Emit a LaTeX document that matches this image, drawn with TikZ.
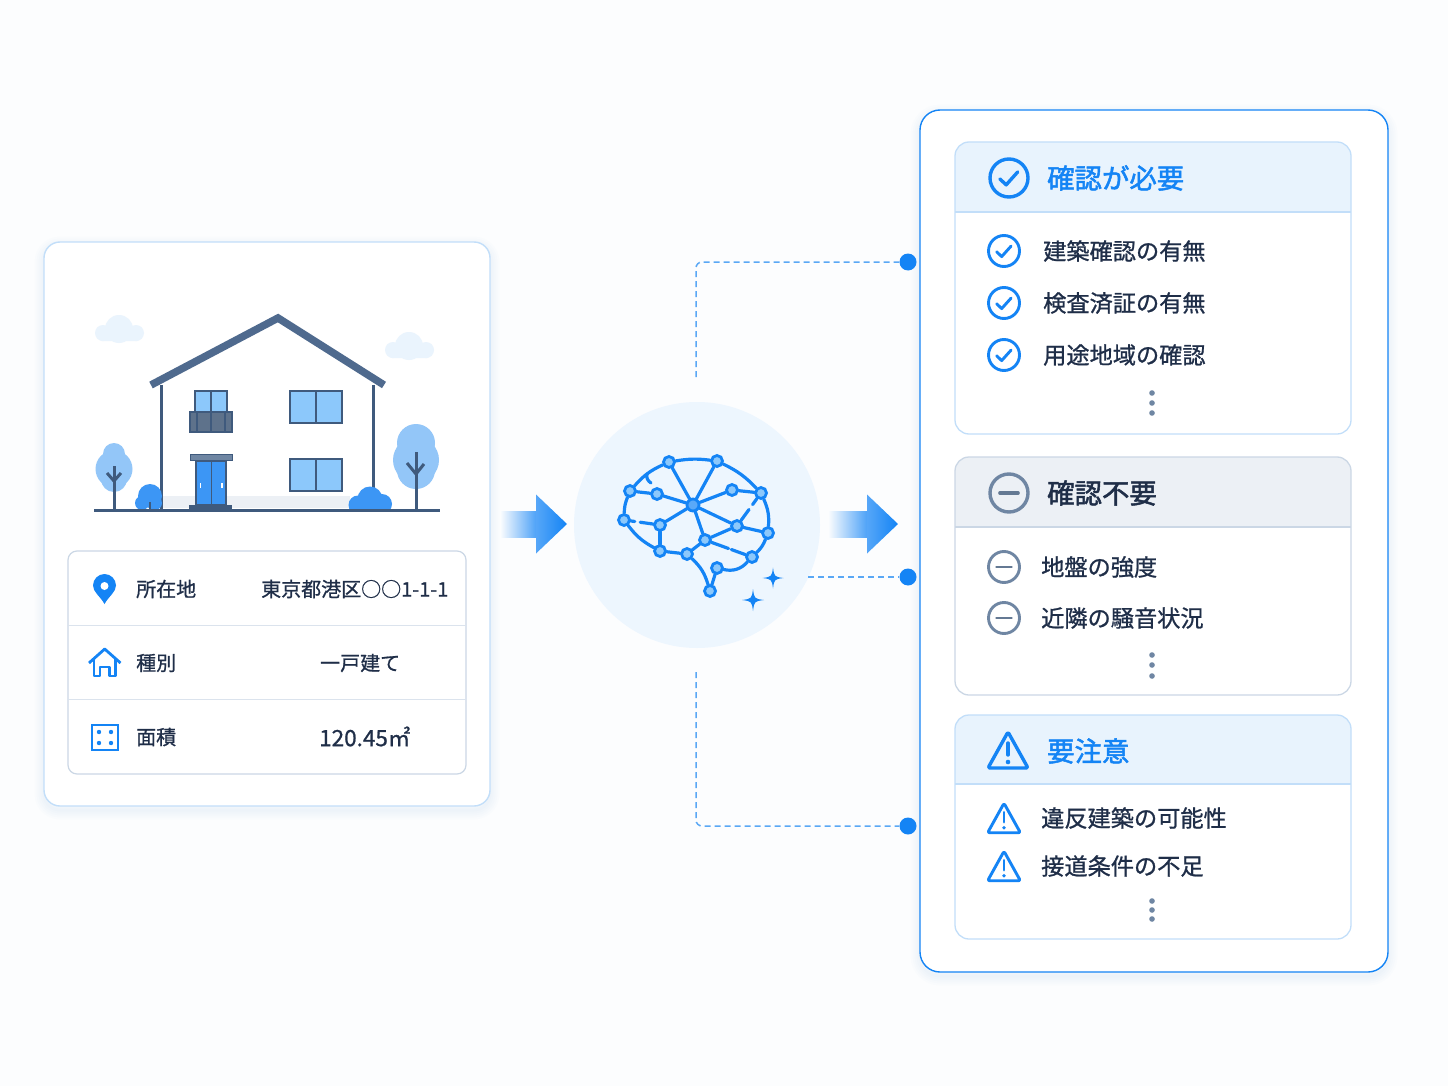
\documentclass[tikz,border=0pt]{standalone}
\usepackage{fontspec}
\setmainfont{Noto Sans CJK JP}
\newfontfamily\itemfont[FakeBold=0.9]{Noto Sans CJK JP}
\newfontfamily\headfont[FakeBold=1.8]{Noto Sans CJK JP}
\usetikzlibrary{positioning,calc,shapes.geometric}

\definecolor{pagebg}{HTML}{FCFDFE}
\definecolor{accent}{HTML}{1484F5}
\definecolor{ink}{HTML}{1F2E48}
\definecolor{slate}{HTML}{6F86A3}
\definecolor{steel}{HTML}{3F5A7D}
\definecolor{roofc}{HTML}{4F6A8E}
\definecolor{edgeb}{HTML}{C2DEF9}
\definecolor{edgeg}{HTML}{CBD7E5}
\definecolor{headb}{HTML}{E8F3FD}
\definecolor{headg}{HTML}{ECF0F5}
\definecolor{hubc}{HTML}{EDF6FE}
\definecolor{glass}{HTML}{8CC8FB}
\definecolor{leaf}{HTML}{93C6F8}
\definecolor{bush}{HTML}{3C96F5}
\definecolor{cloudc}{HTML}{EAF4FD}
\definecolor{dashc}{HTML}{5AA8F5}

\tikzset{
  panel/.style={rectangle,draw=accent,fill=white,line width=1.4pt,rounded corners=20pt,inner sep=0pt,outer sep=0pt},
  card/.style={rectangle,draw=edgeb,fill=white,line width=1.4pt,rounded corners=16pt,inner sep=0pt,outer sep=0pt},
  infobox/.style={rectangle,draw=edgeg,fill=white,line width=1.2pt,rounded corners=9pt,inner sep=0pt,outer sep=0pt},
  txt/.style={anchor=west,inner sep=0pt,text=ink,font=\itemfont\fontsize{20}{24}\selectfont},
  item/.style={anchor=west,inner sep=0pt,text=ink,font=\itemfont\fontsize{23.2}{26}\selectfont},
  headtxt/.style={anchor=west,inner sep=0pt,font=\headfont\fontsize{27.4}{30}\selectfont},
  brainnode/.style={circle,draw=accent,fill=glass,line width=2.8pt,minimum size=11pt,inner sep=0pt},
  brainline/.style={draw=accent,line width=3.2pt,line cap=round},
  dashline/.style={draw=dashc,line width=1.5pt,dash pattern=on 6pt off 4pt,rounded corners=6pt},
  enddot/.style={circle,fill=accent,minimum size=17pt,inner sep=0pt},
  win/.style={draw=steel,fill=glass,line width=2.6pt},
  wall/.style={draw=steel,line width=3pt},
}

% icons, all at centre #1,#2
\newcommand{\chkicon}[5]{\begin{scope}[shift={(#1,#2)},scale=#3]
  \draw[#5,line width=#4] (0,0) circle (1);
  \draw[#5,line width=#4,line cap=round,line join=round] (-.48,.05) -- (-.15,.36) -- (.46,-.32);
\end{scope}}
\newcommand{\minusicon}[4]{\begin{scope}[shift={(#1,#2)},scale=#3]
  \draw[slate,line width=#4] (0,0) circle (1);
  \draw[slate!90!black,line width=#4,line cap=round] (-.48,0) -- (.48,0);
\end{scope}}
\newcommand{\warnicon}[4]{\begin{scope}[shift={(#1,#2)},scale=#3]
  \draw[accent,line width=#4,line join=round,rounded corners=2pt] (0,-18) -- (20,18) -- (-20,18) -- cycle;
  \draw[accent,line width=#4,line cap=round] (0,-7) -- (0,5);
  \fill[accent] (0,12) circle (2.3);
\end{scope}}
\newcommand{\cloudshape}[2]{\begin{scope}[shift={(#1,#2)}]
  \fill[cloudc] (8,13) circle (8);
  \fill[cloudc] (41,13) circle (8);
  \fill[cloudc] (24,9) circle (14);
  \fill[cloudc,rounded corners=4pt] (3,14) rectangle (46,21);
\end{scope}}
\newcommand{\blockarrow}[2]{\begin{scope}[shift={(#1,524)}]
  \shade[left color=pagebg,right color=accent!75] (0,-13) rectangle (#2,13);
  \shade[left color=accent!72,right color=accent] (#2,-29.5) -- ({#2+31},0) -- (#2,29.5) -- cycle;
\end{scope}}
\newcommand{\softshadow}[3]{\foreach \w in {3,7,11,15,19}{
  \draw[accent,opacity=.012,line width=\w pt,rounded corners=#3] (#1) rectangle (#2);}}

\begin{document}
\begin{tikzpicture}[x=1pt,y=-1pt]
  \fill[pagebg] (0,0) rectangle (1448,1086);
  \useasboundingbox (0,0) rectangle (1448,1086);

  % left card
  \softshadow{44,246}{490,810}{16pt}
  \node (cardL) [card,minimum width=446pt,minimum height=564pt,above right] at (44,806) {};
  \node (infoBox) [infobox,minimum width=398pt,minimum height=223pt,above right] at (68,774) {};
  \draw[edgeg!70,line width=1pt] (68,625) -- (466,625);
  \draw[edgeg!70,line width=1pt] (68,699) -- (466,699);

  % clouds
  \cloudshape{95}{320}
  \cloudshape{385}{337}

  % trees
  \fill[leaf] (114,454) circle (11);
  \fill[leaf] (114,469) circle (18.5);
  \fill[leaf] (114,479) circle (13);
  \fill[leaf] (416,443) circle (19);
  \fill[leaf] (416,460) circle (23);
  \fill[leaf] (416,470) circle (19);
  \draw[wall] (114,466) -- (114,510);
  \draw[wall] (107,473) -- (114,481) -- (121,473);
  \draw[wall] (416,452) -- (416,510);
  \draw[wall] (407,463) -- (416,474) -- (424,464);

  % house
  \fill[white] (161,385) -- (278,322) -- (373,385) -- (373,510) -- (161,510) -- cycle;
  \fill[headg] (163,496) rectangle (350,508);
  \draw[wall] (161,385) -- (161,510);
  \draw[wall] (373,385) -- (373,492);
  \draw[roofc,line width=7.5pt] (151,385) -- (278,318) -- (384,385);

  % windows
  \draw[win] (195,391) rectangle (227,412);
  \draw[steel,line width=2.2pt] (211,391) -- (211,412);
  \draw[steel,fill=slate!85!black,line width=2.6pt] (190,412) rectangle (232,432);
  \foreach \rail in {197,211,225} \draw[steel,line width=1.5pt] (\rail,412) -- (\rail,432);
  \draw[win] (290,391) rectangle (342,423);
  \draw[steel,line width=2.4pt] (316,391) -- (316,423);
  \draw[win] (290,459) rectangle (342,491);
  \draw[steel,line width=2.4pt] (316,459) -- (316,491);

  % door
  \fill[slate,draw=steel,line width=1pt] (190,454) rectangle (232,460);
  \draw[steel,fill=bush,line width=2.4pt] (196,461) rectangle (226,505);
  \draw[steel,line width=1pt] (211,461) -- (211,505);
  \fill[white] (199.5,483) rectangle (201,488);
  \fill[white] (221,483) rectangle (222.5,488);
  \fill[steel] (189,505) rectangle (232,510);

  % bushes
  \begin{scope}
    \clip (120,470) rectangle (410,510);
    \fill[bush] (150,496) circle (12);
    \fill[bush] (142,503) circle (7);
    \fill[bush] (155,503) circle (7);
    \fill[bush] (370,499) circle (12.5);
    \fill[bush] (358,505) circle (9.5);
    \fill[bush] (382,504) circle (10);
  \end{scope}
  \draw[steel,line width=1.6pt] (150,502) -- (150,510);

  % ground
  \draw[wall] (94,510) -- (440,510);

  % info rows
  \fill[accent] (104.5,604) .. controls (100,596) and (93,592) .. (93,585.5) arc[start angle=180,end angle=360,radius=11.5] .. controls (116,592) and (109,596) .. (104.5,604) -- cycle;
  \fill[white] (104.5,586) circle (4);
  \draw[accent,line width=2.8pt,line join=round] (89,663) -- (104.7,649) -- (120.5,663);
  \draw[accent,line width=2.8pt,line join=round] (94,659) -- (94,676) -- (100,676) -- (100,667) -- (109.5,667) -- (109.5,676) -- (115.5,676) -- (115.5,659);
  \draw[accent,line width=2.8pt] (92,725) rectangle (118,750);
  \foreach \dx in {99,111} \foreach \dy in {732,743} \fill[accent] (\dx,\dy) circle (2.2);

  \node (lblAddr) [txt] at (136,589) {所在地};
  \node (lblKind) [txt] at (136,663) {種別};
  \node (lblArea) [txt] at (136,737) {面積};
  \node (valAddr) [txt] at (261,589) {東京都港区○○1-1-1};
  \node (valKind) [txt] at (320,663) {一戸建て};
  \node (valArea) [txt,font=\itemfont\fontsize{22.5}{24}\selectfont] at (319,736.5) {120.45㎡};

  % arrows
  \blockarrow{500}{36}
  \blockarrow{828}{39}

  % hub with brain
  \node (hub) [circle,fill=hubc,minimum size=246pt,inner sep=0pt] at (697,525) {};
  \foreach \nm/\x/\y in {n1/669/462,n2/717/461,n3/630/491,n4/657/494,n6/732/490,n7/761/493,n8/624/520,n9/660/525,n10/737/526,n11/768/533,n12/660/551,n13/687/554,n14/705/540,n15/752/557,n16/717/568,n17/710/591}
    \node (\nm) [brainnode] at (\x,\y) {};
  \node (n5) [brainnode,fill=accent!70,minimum size=12pt] at (693,505) {};

  % brain outline
  \draw[brainline] (n3) to[bend left=12] (n1);
  \draw[brainline] (n1) to[bend left=8] (n2);
  \draw[brainline] (n2) to[bend left=10] (n7);
  \draw[brainline] (n7) to[bend left=14] (n11);
  \draw[brainline] (n11) to[bend left=12] (n15);
  \draw[brainline] (n15) to[bend left=30] (n16);
  \draw[brainline] (n16) -- (n17);
  \draw[brainline] (n17) to[bend right=15] (n13);
  \draw[brainline] (n13) -- (n12);
  \draw[brainline] (n12) to[bend left=12] (n8);
  \draw[brainline] (n8) to[bend left=10] (n3);
  % brain inside
  \foreach \a/\b in {n1/n5,n2/n5,n4/n5,n6/n5,n10/n5,n9/n5,n14/n5,n3/n4,n6/n7,n9/n12,n10/n11,n10/n14,n14/n13}
    \draw[brainline] (\a) -- (\b);
  \draw[brainline] (n8) -- ($(n8)!.3!(n9)$);
  \draw[brainline] ($(n8)!.45!(n9)$) -- (n9);
  \draw[brainline] (n7) -- ($(n7)!.35!(n10)$);
  \draw[brainline] ($(n7)!.5!(n10)$) -- (n10);
  \draw[brainline] (n14) -- ($(n14)!.5!(n15)$);
  \draw[brainline] ($(n14)!.56!(n15)$) -- (n15);
  \draw[brainline] (647,474) .. controls (646,478) and (648,481) .. (651,483);

  % sparkles
  \foreach \sx/\sy/\sr in {773/578/10.5,753/600/11}
    \fill[accent] (\sx,{\sy-\sr}) .. controls ({\sx+.12*\sr},{\sy-.12*\sr}) .. ({\sx+\sr},\sy) .. controls ({\sx+.12*\sr},{\sy+.12*\sr}) .. (\sx,{\sy+\sr}) .. controls ({\sx-.12*\sr},{\sy+.12*\sr}) .. ({\sx-\sr},\sy) .. controls ({\sx-.12*\sr},{\sy-.12*\sr}) .. (\sx,{\sy-\sr}) -- cycle;

  % right panel
  \softshadow{920,114}{1388,976}{20pt}
  \node (panelR) [panel,minimum width=468pt,minimum height=862pt,above right] at (920,972) {};

  % sections
  \foreach \tp/\hd/\bt/\fc/\ec in {142/212/434/headb/edgeb,457/527/695/headg/edgeg,715/784/939/headb/edgeb}{
    \fill[\fc,rounded corners=14pt] (955,\tp) rectangle (1351,{\hd+20});
    \fill[white] (955,\hd) rectangle (1351,{\hd+22});
    \draw[\ec,line width=1.3pt,rounded corners=14pt] (955,\tp) rectangle (1351,\bt);
    \draw[\ec,line width=1.3pt] (955,\hd) -- (1351,\hd);
  }

  % headers
  \chkicon{1009}{178}{19}{3.4pt}{accent}
  \node (headA) [headtxt,text=accent] at (1047,178) {確認が必要};
  \minusicon{1009}{493}{19}{3.4pt}
  \node (headB) [headtxt,text=ink] at (1047,493) {確認不要};
  \warnicon{1008}{750}{1}{3.4pt}
  \node (headC) [headtxt,text=accent] at (1047,751) {要注意};

  % items
  \foreach \yy in {251,303,355} {\chkicon{1004}{\yy}{15.5}{2.9pt}{accent}}
  \node (itemA1) [item] at (1043,251) {建築確認の有無};
  \node (itemA2) [item] at (1043,303) {検査済証の有無};
  \node (itemA3) [item] at (1043,355) {用途地域の確認};
  \foreach \yy in {567,618} {\minusicon{1004}{\yy}{15.5}{2.9pt}}
  \node (itemB1) [item] at (1041,567) {地盤の強度};
  \node (itemB2) [item] at (1041,618) {近隣の騒音状況};
  \foreach \yy in {818,866} {\warnicon{1004}{\yy}{.82}{2.9pt}}
  \node (itemC1) [item] at (1041,818) {違反建築の可能性};
  \node (itemC2) [item] at (1041,866) {接道条件の不足};

  % more dots
  \foreach \yy in {393,403,413,655,665,676,901,910,919}
    \fill[slate] (1152,\yy) circle (2.8);

  % dashed links
  \node (dotA) [enddot] at (908,262) {};
  \node (dotB) [enddot] at (908,577) {};
  \node (dotC) [enddot] at (908,826) {};
  \coordinate (upStart) at (696,377);
  \coordinate (midStart) at (808,577);
  \coordinate (lowStart) at (696,672);
  \draw[dashline] (upStart) |- (dotA);
  \draw[dashline] (midStart) -- (dotB);
  \draw[dashline] (lowStart) |- (dotC);
\end{tikzpicture}
\end{document}
